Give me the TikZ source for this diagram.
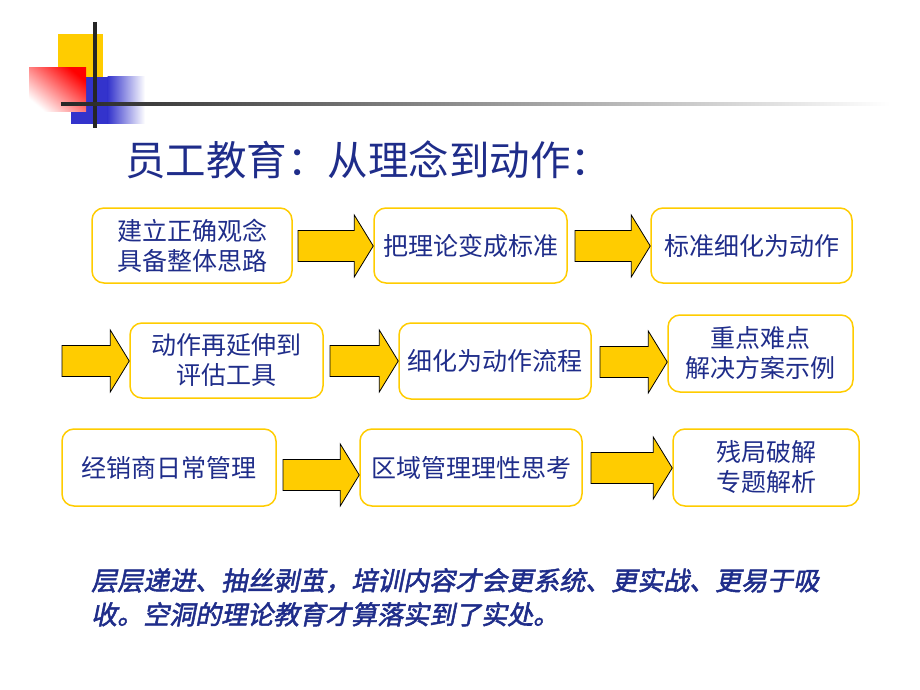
\documentclass[tikz,border=0pt]{standalone}
\usepackage{fontspec}
\usepackage{tikz}
\usetikzlibrary{calc}
\newfontfamily\cjk{Noto Sans CJK SC}
\newfontfamily\cjkbi[FakeSlant=0.2,FakeBold=2]{Noto Sans CJK SC}

\definecolor{navytext}{HTML}{1F2D8A}
\definecolor{boxyellow}{HTML}{FFCC00}
\definecolor{logoblue}{HTML}{3333CC}

\tikzset{
    stepbox/.style={draw=boxyellow, line width=1.5pt, rounded corners=12pt, fill=white,
        text=navytext, font=\cjk\fontsize{25}{30}\selectfont, align=center, inner sep=0pt},
    bigarrow/.style={fill=boxyellow, draw=black, line width=0.8pt, line join=miter}
}

\newcommand{\blockarrow}[2]{%
    \filldraw[bigarrow] let \p1=(#1), \p2=(#2) in
        (\x1,\y1+15.5pt) -- (\x2-19pt,\y1+15.5pt) -- (\x2-19pt,\y1+31pt) -- (\x2,\y1)
        -- (\x2-19pt,\y1-31pt) -- (\x2-19pt,\y1-15.5pt) -- (\x1,\y1-15.5pt) -- cycle;}

\begin{document}
\begin{tikzpicture}[x=1pt,y=-1pt]
                \useasboundingbox (0,0) rectangle (920,690);

                \fill[boxyellow] (58,34) rectangle (103,81);
                \fill[logoblue] (71,77) rectangle (108,124);
                \shade[left color=logoblue, right color=white] (107.5,77) rectangle (145,124);
                \shade[top color=red, bottom color=white, shading angle=-40] (29,68) rectangle (86,112);
                \draw[line width=3.3pt, black!85] (95,22) -- (95,128);
                \shade[left color=black!85, right color=white] (61,102.5) rectangle (890,105.5);

                \node[anchor=west, text=navytext, font=\cjk\fontsize{40.5}{42}\selectfont, inner sep=0pt]
                    (title) at (125,160) {员工教育：从理念到动作：};

                \node[stepbox, minimum width=200, minimum height=75] (b1) at (192,245.5)
                    {建立正确观念\\具备整体思路};
                \node[stepbox, minimum width=193, minimum height=75] (b2) at (470.5,245.5)
                    {把理论变成标准};
                \node[stepbox, minimum width=201, minimum height=75] (b3) at (751.5,245.5)
                    {标准细化为动作};

                \node[stepbox, minimum width=193, minimum height=75] (b4) at (226.5,360.5)
                    {动作再延伸到\\评估工具};
                \node[stepbox, minimum width=192, minimum height=76] (b5) at (495,361)
                    {细化为动作流程};
                \node[stepbox, minimum width=185, minimum height=77] (b6) at (760.5,353.5)
                    {重点难点\\解决方案示例};

                \node[stepbox, minimum width=214, minimum height=77] (b7) at (169,467.5)
                    {经销商日常管理};
                \node[stepbox, minimum width=222, minimum height=77] (b8) at (471,467.5)
                    {区域管理理性思考};
                \node[stepbox, minimum width=186, minimum height=77] (b9) at (766,467.5)
                    {残局破解\\专题解析};

                \coordinate (s1) at (298,246);
                \coordinate (s2) at (575,246);
                \coordinate (s3) at (62,361);
                \coordinate (s4) at (330,361);
                \coordinate (s5) at (600,362);
                \coordinate (s6) at (283,475);
                \coordinate (s7) at (591,468);

                \blockarrow{s1}{b2.west |- s1}
                \blockarrow{s2}{b3.west |- s2}
                \blockarrow{s3}{b4.west |- s3}
                \blockarrow{s4}{b5.west |- s4}
                \blockarrow{s5}{b6.west |- s5}
                \blockarrow{s6}{b8.west |- s6}
                \blockarrow{s7}{b9.west |- s7}

                \node[anchor=north west, align=left, text=navytext, inner sep=0pt,
                    font=\cjkbi\fontsize{26}{34}\selectfont] (summary) at (91,568)
                    {层层递进、抽丝剥茧，培训内容才会更系统、更实战、更易于吸\\收。空洞的理论教育才算落实到了实处。};
            \end{tikzpicture}
\end{document}
